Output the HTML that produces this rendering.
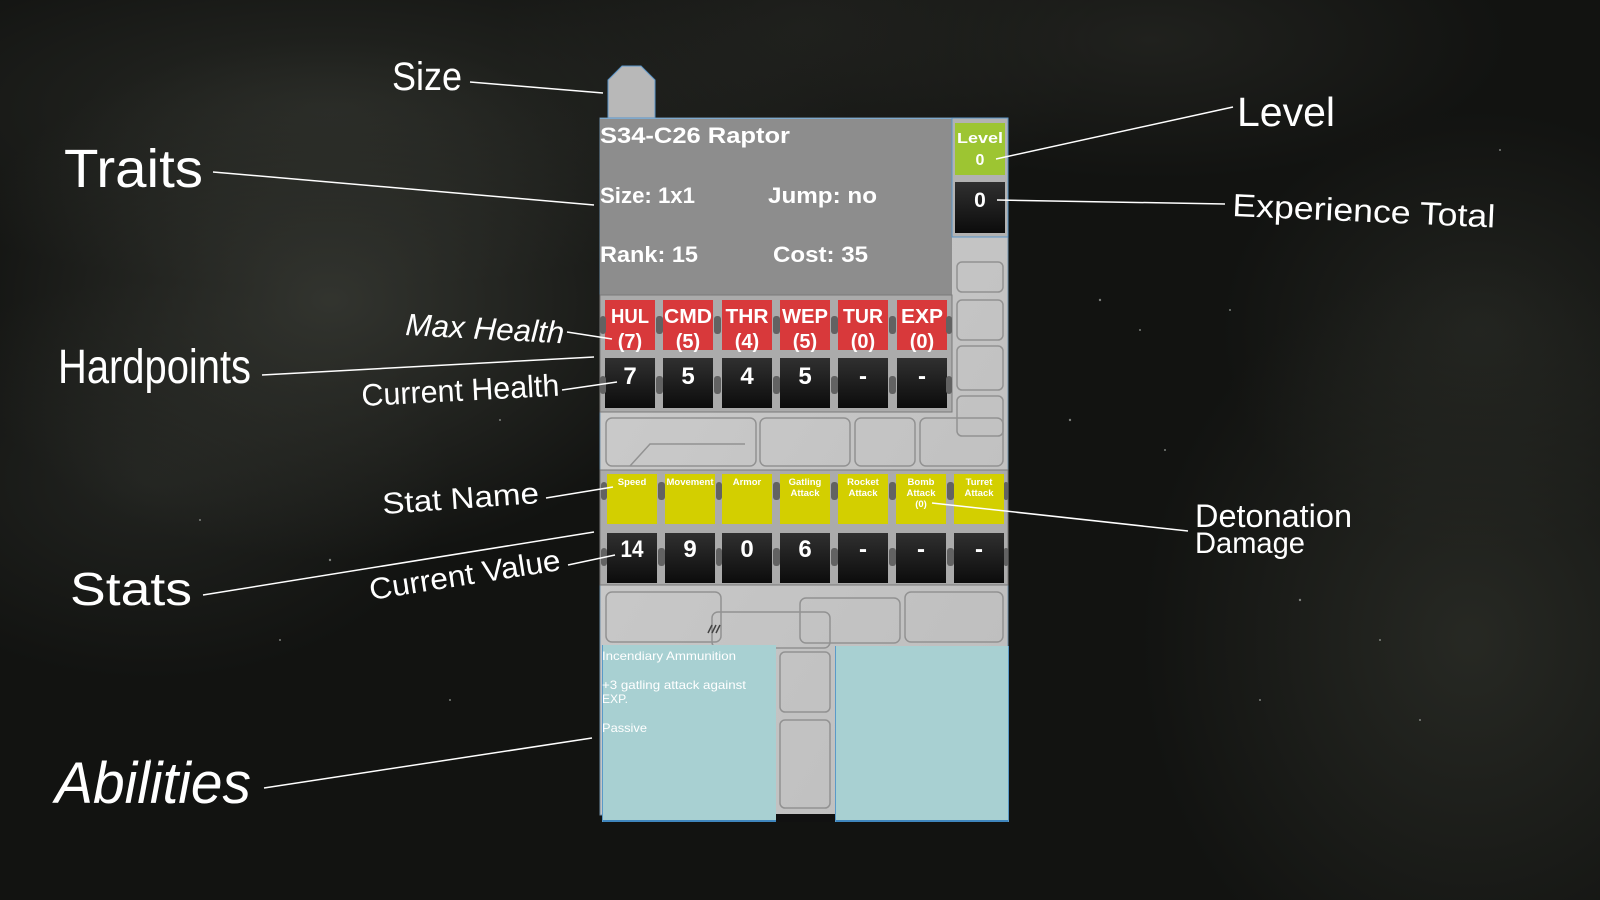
<!DOCTYPE html>
<html><head><meta charset="utf-8"><style>
html,body{margin:0;padding:0;}
body{width:1600px;height:900px;overflow:hidden;position:relative;
background:
radial-gradient(ellipse 380px 260px at 330px 300px, rgba(56,58,52,0.85), rgba(56,58,52,0) 100%),
radial-gradient(ellipse 520px 180px at 330px 110px, rgba(44,46,41,0.8), rgba(44,46,41,0) 100%),
radial-gradient(ellipse 300px 200px at 150px 480px, rgba(40,42,38,0.7), rgba(40,42,38,0) 100%),
radial-gradient(ellipse 330px 380px at 1470px 640px, rgba(44,46,40,0.8), rgba(44,46,40,0) 100%),
radial-gradient(ellipse 260px 220px at 1480px 330px, rgba(40,42,37,0.7), rgba(40,42,37,0) 100%),
radial-gradient(ellipse 360px 140px at 1150px 40px, rgba(38,39,35,0.7), rgba(38,39,35,0) 100%),
radial-gradient(ellipse 300px 200px at 800px 30px, rgba(40,41,37,0.6), rgba(40,41,37,0) 100%),
#121311;}
svg{position:absolute;left:0;top:0;}
.ann{fill:#fff;font-family:"Liberation Sans",sans-serif;}
.ui{fill:#fff;font-family:"Liberation Sans",sans-serif;font-weight:bold;}
.ln{stroke:#fff;stroke-width:1.5;fill:none;}
.seam{fill:none;stroke:#929292;stroke-width:1.5;}
</style></head><body>
<svg width="1600" height="900" viewBox="0 0 1600 900" xmlns="http://www.w3.org/2000/svg">
<defs>
<linearGradient id="dk" x1="0" y1="0" x2="0" y2="1"><stop offset="0" stop-color="#303030"/><stop offset="1" stop-color="#0c0c0c"/></linearGradient>
<linearGradient id="metal" x1="0" y1="0" x2="1" y2="1"><stop offset="0" stop-color="#cdcdcd"/><stop offset="1" stop-color="#bdbdbd"/></linearGradient>
</defs>

<!-- stars -->
<g fill="#bfc4c0" opacity="0.6">
<circle cx="1100" cy="300" r="1.2"/><circle cx="1140" cy="330" r="1"/><circle cx="1230" cy="310" r="1"/><circle cx="1070" cy="420" r="1.2"/><circle cx="1165" cy="450" r="1"/><circle cx="1300" cy="600" r="1.2"/><circle cx="1380" cy="640" r="1"/><circle cx="1420" cy="720" r="1"/><circle cx="1260" cy="700" r="1"/><circle cx="200" cy="520" r="1"/><circle cx="330" cy="560" r="1.2"/><circle cx="280" cy="640" r="1"/><circle cx="450" cy="700" r="1"/><circle cx="150" cy="760" r="1"/><circle cx="500" cy="420" r="1"/><circle cx="1500" cy="150" r="1"/><circle cx="1350" cy="220" r="1"/>
</g>

<!-- metal backing -->
<rect x="600" y="118" width="408" height="697" fill="url(#metal)"/>
<rect x="600" y="118" width="408" height="697" fill="none" stroke="#6f8fa8" stroke-width="1"/>
<!-- seams right column -->
<rect class="seam" x="957" y="262" width="46" height="30" rx="5"/>
<rect class="seam" x="957" y="300" width="46" height="40" rx="5"/>
<rect class="seam" x="957" y="346" width="46" height="44" rx="5"/>
<rect class="seam" x="957" y="396" width="46" height="40" rx="5"/>
<!-- seams band 412-470 -->
<rect class="seam" x="606" y="418" width="150" height="48" rx="6"/>
<path class="seam" d="M630 466 L650 444 L745 444"/>
<rect class="seam" x="760" y="418" width="90" height="48" rx="6"/>
<rect class="seam" x="855" y="418" width="60" height="48" rx="6"/>
<rect class="seam" x="920" y="418" width="83" height="48" rx="6"/>
<!-- seams band 585-645 -->
<rect class="seam" x="606" y="592" width="115" height="50" rx="6"/>
<rect class="seam" x="712" y="612" width="118" height="36" rx="6"/>
<rect class="seam" x="800" y="598" width="100" height="45" rx="6"/>
<rect class="seam" x="905" y="592" width="98" height="50" rx="6"/>
<path d="M712 625 l-4 8 M716 625 l-4 8 M720 625 l-4 8" stroke="#444" stroke-width="1.5"/>
<!-- seams between abilities -->
<rect class="seam" x="780" y="652" width="50" height="60" rx="5"/>
<rect class="seam" x="780" y="720" width="50" height="88" rx="5"/>
<rect x="776" y="814" width="59" height="8" fill="#111"/>

<!-- size tab -->
<polygon points="608,118 608,80 622,66 641,66 655,80 655,118" fill="#b8b8b8" stroke="#5b95c8" stroke-width="1"/>

<!-- info panel -->
<rect x="600" y="118" width="352" height="177" fill="#8d8d8d"/>
<line x1="600" y1="118.5" x2="952" y2="118.5" stroke="#7fa9cc" stroke-width="1"/>
<text class="ui" x="600" y="143" font-size="22" textLength="190" lengthAdjust="spacingAndGlyphs">S34-C26 Raptor</text>
<text class="ui" x="600" y="203" font-size="22" textLength="95" lengthAdjust="spacingAndGlyphs">Size: 1x1</text>
<text class="ui" x="768" y="203" font-size="22" textLength="109" lengthAdjust="spacingAndGlyphs">Jump: no</text>
<text class="ui" x="600" y="262" font-size="22" textLength="98" lengthAdjust="spacingAndGlyphs">Rank: 15</text>
<text class="ui" x="773" y="262" font-size="22" textLength="95" lengthAdjust="spacingAndGlyphs">Cost: 35</text>

<!-- level column -->
<rect x="952" y="118" width="56" height="119" fill="#b2b2b2" stroke="#5b95c8" stroke-width="1"/>
<rect x="955" y="123" width="50" height="52" fill="#9dc532"/>
<rect x="955" y="182" width="50" height="51" fill="url(#dk)"/>
<text class="ui" x="957" y="143" font-size="15" textLength="46" lengthAdjust="spacingAndGlyphs">Level</text>
<text class="ui" x="980" y="165" font-size="16" text-anchor="middle">0</text>
<text class="ui" x="980" y="207" font-size="21" text-anchor="middle">0</text>

<!-- hardpoints frame -->
<rect x="600" y="295" width="352" height="117" fill="#ababab" stroke="#7a7a7a" stroke-width="1"/>
<g>
<rect x="605" y="300" width="50" height="50" fill="#d8393b"/>
<rect x="663" y="300" width="50" height="50" fill="#d8393b"/>
<rect x="722" y="300" width="50" height="50" fill="#d8393b"/>
<rect x="780" y="300" width="50" height="50" fill="#d8393b"/>
<rect x="838" y="300" width="50" height="50" fill="#d8393b"/>
<rect x="897" y="300" width="50" height="50" fill="#d8393b"/>
<rect x="605" y="358" width="50" height="50" fill="url(#dk)"/>
<rect x="663" y="358" width="50" height="50" fill="url(#dk)"/>
<rect x="722" y="358" width="50" height="50" fill="url(#dk)"/>
<rect x="780" y="358" width="50" height="50" fill="url(#dk)"/>
<rect x="838" y="358" width="50" height="50" fill="url(#dk)"/>
<rect x="897" y="358" width="50" height="50" fill="url(#dk)"/>
</g>
<g fill="#626262">
<rect x="600" y="316" width="6" height="18" rx="3"/><rect x="656" y="316" width="7" height="18" rx="3"/><rect x="714" y="316" width="7" height="18" rx="3"/><rect x="773" y="316" width="7" height="18" rx="3"/><rect x="831" y="316" width="7" height="18" rx="3"/><rect x="889" y="316" width="7" height="18" rx="3"/><rect x="946" y="316" width="6" height="18" rx="3"/>
<rect x="600" y="376" width="6" height="18" rx="3"/><rect x="656" y="376" width="7" height="18" rx="3"/><rect x="714" y="376" width="7" height="18" rx="3"/><rect x="773" y="376" width="7" height="18" rx="3"/><rect x="831" y="376" width="7" height="18" rx="3"/><rect x="889" y="376" width="7" height="18" rx="3"/><rect x="946" y="376" width="6" height="18" rx="3"/>
</g>
<g class="ui" font-size="20" text-anchor="middle">
<text x="630" y="323" textLength="38" lengthAdjust="spacingAndGlyphs">HUL</text>
<text x="688" y="323" textLength="48" lengthAdjust="spacingAndGlyphs">CMD</text>
<text x="747" y="323" textLength="43" lengthAdjust="spacingAndGlyphs">THR</text>
<text x="805" y="323" textLength="46" lengthAdjust="spacingAndGlyphs">WEP</text>
<text x="863" y="323" textLength="40" lengthAdjust="spacingAndGlyphs">TUR</text>
<text x="922" y="323" textLength="42" lengthAdjust="spacingAndGlyphs">EXP</text>
<text x="630" y="348">(7)</text>
<text x="688" y="348">(5)</text>
<text x="747" y="348">(4)</text>
<text x="805" y="348">(5)</text>
<text x="863" y="348">(0)</text>
<text x="922" y="348">(0)</text>
</g>
<g class="ui" font-size="24" text-anchor="middle">
<text x="630" y="384">7</text>
<text x="688" y="384">5</text>
<text x="747" y="384">4</text>
<text x="805" y="384">5</text>
<text x="863" y="384">-</text>
<text x="922" y="384">-</text>
</g>

<!-- stats frame -->
<rect x="600" y="470" width="408" height="115" fill="#ababab" stroke="#7a7a7a" stroke-width="1"/>
<g fill="#d3cf00">
<rect x="607" y="474" width="50" height="50"/><rect x="665" y="474" width="50" height="50"/><rect x="722" y="474" width="50" height="50"/><rect x="780" y="474" width="50" height="50"/><rect x="838" y="474" width="50" height="50"/><rect x="896" y="474" width="50" height="50"/><rect x="954" y="474" width="50" height="50"/>
</g>
<g fill="url(#dk)">
<rect x="607" y="533" width="50" height="50"/><rect x="665" y="533" width="50" height="50"/><rect x="722" y="533" width="50" height="50"/><rect x="780" y="533" width="50" height="50"/><rect x="838" y="533" width="50" height="50"/><rect x="896" y="533" width="50" height="50"/><rect x="954" y="533" width="50" height="50"/>
</g>
<g fill="#626262">
<rect x="601" y="482" width="6" height="18" rx="3"/><rect x="658" y="482" width="7" height="18" rx="3"/><rect x="716" y="482" width="6" height="18" rx="3"/><rect x="773" y="482" width="7" height="18" rx="3"/><rect x="831" y="482" width="7" height="18" rx="3"/><rect x="889" y="482" width="7" height="18" rx="3"/><rect x="947" y="482" width="7" height="18" rx="3"/><rect x="1004" y="482" width="4" height="18" rx="2"/>
<rect x="601" y="548" width="6" height="18" rx="3"/><rect x="658" y="548" width="7" height="18" rx="3"/><rect x="716" y="548" width="6" height="18" rx="3"/><rect x="773" y="548" width="7" height="18" rx="3"/><rect x="831" y="548" width="7" height="18" rx="3"/><rect x="889" y="548" width="7" height="18" rx="3"/><rect x="947" y="548" width="7" height="18" rx="3"/><rect x="1004" y="548" width="4" height="18" rx="2"/>
</g>
<g class="ui" font-size="9.5" text-anchor="middle">
<text x="632" y="485">Speed</text>
<text x="690" y="485" textLength="47" lengthAdjust="spacingAndGlyphs">Movement</text>
<text x="747" y="485">Armor</text>
<text x="805" y="485">Gatling</text><text x="805" y="496">Attack</text>
<text x="863" y="485">Rocket</text><text x="863" y="496">Attack</text>
<text x="921" y="485">Bomb</text><text x="921" y="496">Attack</text><text x="921" y="507">(0)</text>
<text x="979" y="485">Turret</text><text x="979" y="496">Attack</text>
</g>
<g class="ui" font-size="24" text-anchor="middle">
<text x="632" y="557" textLength="23" lengthAdjust="spacingAndGlyphs">14</text>
<text x="690" y="557">9</text>
<text x="747" y="557">0</text>
<text x="805" y="557">6</text>
<text x="863" y="557">-</text>
<text x="921" y="557">-</text>
<text x="979" y="557">-</text>
</g>

<!-- abilities -->
<rect x="602" y="645" width="174" height="177" fill="#a8d0d2"/>
<line x1="602" y1="821" x2="776" y2="821" stroke="#3f86bd" stroke-width="2"/>
<line x1="602.5" y1="645" x2="602.5" y2="822" stroke="#5a9ac8" stroke-width="1"/>
<rect x="835" y="646" width="174" height="176" fill="#a8d0d2"/>
<line x1="835" y1="821" x2="1009" y2="821" stroke="#3f86bd" stroke-width="2"/>
<line x1="835.5" y1="646" x2="835.5" y2="822" stroke="#5a9ac8" stroke-width="1"/>
<line x1="1008.5" y1="646" x2="1008.5" y2="822" stroke="#5a9ac8" stroke-width="1"/>
<g class="ann" font-size="12">
<text x="602" y="660" textLength="134" lengthAdjust="spacingAndGlyphs">Incendiary Ammunition</text>
<text x="602" y="689" textLength="144" lengthAdjust="spacingAndGlyphs">+3 gatling attack against</text>
<text x="602" y="703" textLength="26" lengthAdjust="spacingAndGlyphs">EXP.</text>
<text x="602" y="732" textLength="45" lengthAdjust="spacingAndGlyphs">Passive</text>
</g>

<!-- annotation lines -->
<line class="ln" x1="470" y1="82" x2="603" y2="93"/>
<line class="ln" x1="213" y1="172" x2="594" y2="205"/>
<line class="ln" x1="567" y1="332" x2="612" y2="339"/>
<line class="ln" x1="262" y1="375" x2="594" y2="357"/>
<line class="ln" x1="562" y1="390" x2="617" y2="382"/>
<line class="ln" x1="546" y1="498" x2="613" y2="487"/>
<line class="ln" x1="203" y1="595" x2="594" y2="532"/>
<line class="ln" x1="568" y1="565" x2="615" y2="555"/>
<line class="ln" x1="264" y1="788" x2="592" y2="738"/>
<line class="ln" x1="996" y1="159" x2="1233" y2="107"/>
<line class="ln" x1="997" y1="200" x2="1225" y2="204"/>
<line class="ln" x1="932" y1="503" x2="1188" y2="531"/>

<!-- annotation labels -->
<text class="ann" x="392" y="90" font-size="40" textLength="70" lengthAdjust="spacingAndGlyphs">Size</text>
<text class="ann" x="64" y="187" font-size="54" textLength="139" lengthAdjust="spacingAndGlyphs">Traits</text>
<text class="ann" x="405" y="335" font-size="31" font-style="italic" textLength="159" lengthAdjust="spacingAndGlyphs" transform="rotate(3 405 335)">Max Health</text>
<text class="ann" x="58" y="383" font-size="48" textLength="193" lengthAdjust="spacingAndGlyphs">Hardpoints</text>
<text class="ann" x="362" y="406" font-size="31" textLength="198" lengthAdjust="spacingAndGlyphs" transform="rotate(-3 362 406)">Current Health</text>
<text class="ann" x="383" y="514" font-size="30" textLength="157" lengthAdjust="spacingAndGlyphs" transform="rotate(-4 383 514)">Stat Name</text>
<text class="ann" x="70" y="605" font-size="46" textLength="122" lengthAdjust="spacingAndGlyphs">Stats</text>
<text class="ann" x="371" y="600" font-size="30" textLength="193" lengthAdjust="spacingAndGlyphs" transform="rotate(-9 371 600)">Current Value</text>
<text class="ann" x="55" y="803" font-size="58" font-style="italic" textLength="196" lengthAdjust="spacingAndGlyphs">Abilities</text>
<text class="ann" x="1237" y="126" font-size="41" textLength="98" lengthAdjust="spacingAndGlyphs">Level</text>
<text class="ann" x="1232" y="216" font-size="32" textLength="263" lengthAdjust="spacingAndGlyphs" transform="rotate(2.5 1232 216)">Experience Total</text>
<text class="ann" x="1195" y="527" font-size="32" textLength="157" lengthAdjust="spacingAndGlyphs">Detonation</text>
<text class="ann" x="1195" y="553" font-size="30" textLength="110" lengthAdjust="spacingAndGlyphs">Damage</text>
</svg>
</body></html>
